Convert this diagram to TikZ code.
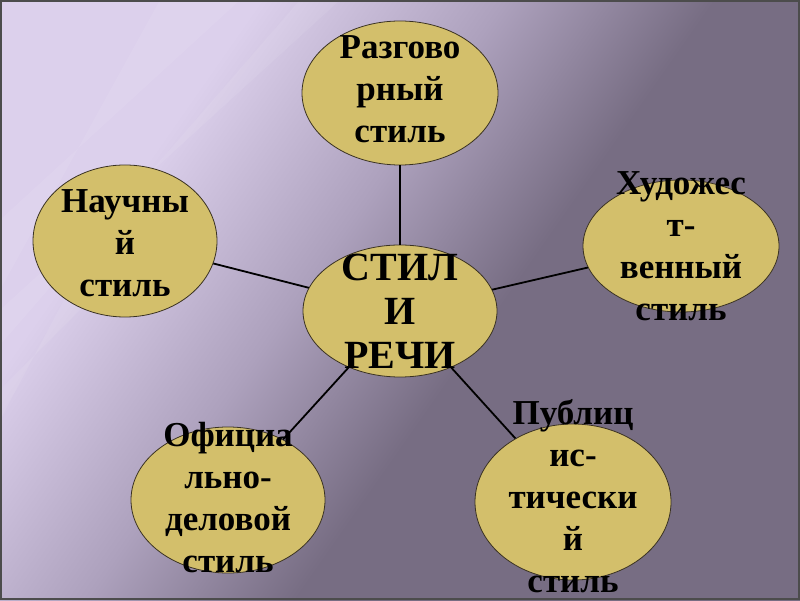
\documentclass[tikz,border=0pt]{standalone}
\usepackage{fontspec}
\setmainfont{Liberation Serif}
\usetikzlibrary{shapes.geometric}
\definecolor{bgA}{HTML}{DCD0EC}
\definecolor{bgB}{HTML}{ADA1BD}
\definecolor{bgC}{HTML}{776D83}
\definecolor{ellfill}{HTML}{D3BF6B}
\definecolor{elldraw}{HTML}{3A3222}
\definecolor{frame}{HTML}{4C4C4C}
\pgfdeclarehorizontalshading{bgshade}{100bp}{color(0bp)=(bgA); color(30bp)=(bgA); color(44bp)=(bgB); color(56bp)=(bgC); color(100bp)=(bgC)}
\tikzset{
  ell/.style={ellipse, draw=elldraw, line width=0.8pt, fill=ellfill, inner sep=0pt},
  lbl/.style={align=center, font=\bfseries\fontsize{35}{42}\selectfont, text=black, inner sep=0pt},
  biglbl/.style={align=center, font=\bfseries\fontsize{40}{44}\selectfont, text=black, inner sep=0pt},
  link/.style={line width=1.8pt, black},
  streak/.style={fill=white, opacity=0.08}
}
\begin{document}
\begin{tikzpicture}[x=1pt,y=1pt]
\useasboundingbox (0,0) rectangle (800,600);
\shade[shading=bgshade, shading angle=-35] (0,0) rectangle (800,600);
\begin{scope}
\clip (0,0) rectangle (800,600);
\fill[streak] (160,600) -- (240,600) -- (0,380) -- (0,310) -- cycle;
\fill[streak] (300,600) -- (340,600) -- (0,290) -- (0,255) -- cycle;
\fill[streak] (80,330) -- (120,330) -- (0,210) -- (0,180) -- cycle;
\end{scope}
\draw[frame, line width=2pt] (1,1) rectangle (799,599);
% ellipses
\node[ell, minimum width=194pt, minimum height=132pt] (c) at (400,289) {};
\node[ell, minimum width=196pt, minimum height=144pt] (t) at (400,507) {};
\node[ell, minimum width=184pt, minimum height=152pt] (l) at (125,359) {};
\node[ell, minimum width=196pt, minimum height=132pt] (r) at (681,354) {};
\node[ell, minimum width=196pt, minimum height=156pt] (br) at (573,98) {};
\node[ell, minimum width=194pt, minimum height=146pt] (bl) at (228,100) {};
% connectors
\draw[link] (c) -- (t);
\draw[link] (c) -- (l);
\draw[link] (c) -- (r);
\draw[link] (c) -- (br);
\draw[link] (c) -- (bl);
% labels
\node[biglbl] (ct) at (400,289) {СТИЛ\\И\\РЕЧИ};
\node[lbl] (tt) at (400,511) {Разгово\\рный\\стиль};
\node[lbl, text depth=0pt] (lt) at (125,357) {Научны\\й\\стиль};
\node[lbl] (rt) at (681,354) {Художес\\т-\\венный\\стиль};
\node[lbl] (brt) at (573,104) {Публиц\\ис-\\тически\\й\\стиль};
\node[lbl] (blt) at (228,102) {Официа\\льно-\\деловой\\стиль};
\end{tikzpicture}
\end{document}
